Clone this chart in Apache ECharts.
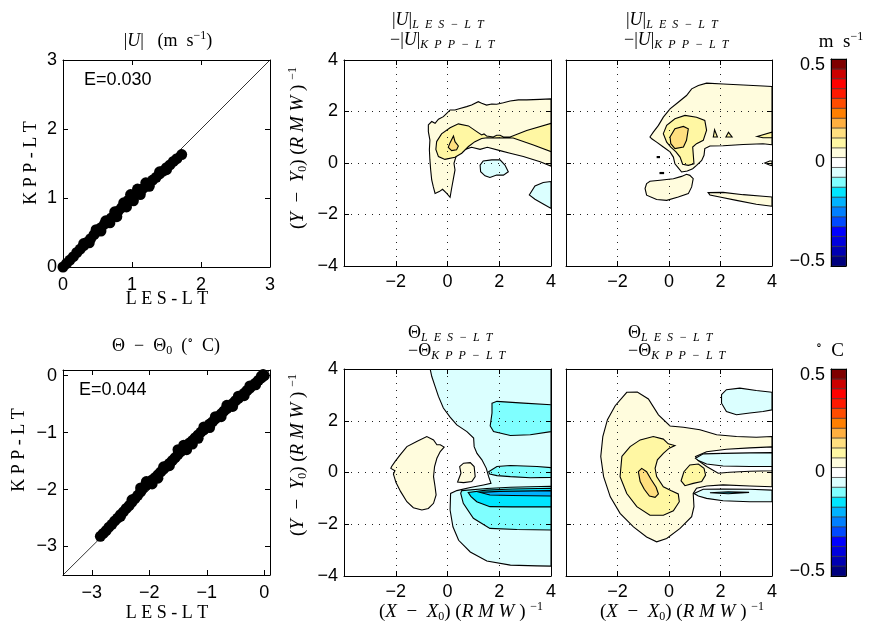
<!DOCTYPE html>
<html><head><meta charset="utf-8">
<script src="https://cdn.jsdelivr.net/npm/echarts@6/dist/echarts.min.js"></script>
<style>html,body{margin:0;padding:0;background:#fff}#c{width:871px;height:629px}</style>
</head><body><div id="c"></div>
<script>
// ---------------- scatter data ----------------
const U_LES = [0.00,0.05,0.10,0.15,0.20,0.25,0.30,0.35,0.40,0.45,0.50,0.55,0.60,0.65,0.70,0.75,0.80,0.85,0.90,0.95,1.00,1.05,1.10,1.15,1.20,1.25,1.30,1.35,1.40,1.45,1.50,1.55,1.60,1.65,1.72,
  0.48,0.55,0.62,0.68,0.75,0.78,0.88,0.92,0.98,1.02,1.08,1.12,1.20,1.25,0.30,0.38,1.40,1.50];
const U_KPP = [0.00,0.05,0.10,0.15,0.21,0.26,0.31,0.36,0.41,0.47,0.52,0.57,0.62,0.66,0.71,0.76,0.81,0.86,0.92,0.97,1.01,1.05,1.09,1.13,1.17,1.21,1.26,1.30,1.35,1.39,1.44,1.48,1.53,1.57,1.63,
  0.54,0.52,0.67,0.64,0.80,0.73,0.93,0.87,1.05,0.96,1.13,1.05,1.22,1.17,0.34,0.35,1.38,1.41];
const T_LES = [-2.85,-2.80,-2.75,-2.70,-2.65,-2.60,-2.55,-2.50,-2.45,-2.40,-2.35,-2.30,-2.25,-2.20,-2.15,-2.10,-2.05,-2.00,-1.95,-1.90,-1.85,-1.80,-1.75,-1.70,-1.65,-1.60,-1.55,-1.50,-1.45,-1.40,-1.35,-1.30,-1.25,-1.20,-1.15,-1.10,-1.05,-1.00,-0.95,-0.90,-0.85,-0.80,-0.75,-0.70,-0.65,-0.60,-0.55,-0.50,-0.45,-0.40,-0.35,-0.30,-0.25,-0.20,-0.15,-0.10,-0.05,0.00,
  -2.15,-2.05,-1.95,-1.85,-1.50,-1.40,-1.35,-1.25,-1.15,-1.05,-0.95,-0.85,-0.75,-0.65,-0.55,-0.45,-0.35,-0.25,-0.15,-0.05,-1.75,-1.65,-2.30,-2.50,-0.02];
const T_KPP = [-2.82,-2.77,-2.72,-2.66,-2.61,-2.55,-2.50,-2.44,-2.39,-2.33,-2.28,-2.22,-2.16,-2.10,-2.04,-1.96,-1.92,-1.88,-1.83,-1.79,-1.74,-1.69,-1.64,-1.59,-1.54,-1.49,-1.44,-1.38,-1.33,-1.27,-1.23,-1.18,-1.14,-1.09,-1.04,-0.99,-0.95,-0.90,-0.85,-0.81,-0.76,-0.72,-0.67,-0.62,-0.58,-0.53,-0.49,-0.44,-0.40,-0.35,-0.31,-0.26,-0.22,-0.17,-0.13,-0.08,-0.04,0.00,
  -1.97,-1.86,-1.90,-1.80,-1.30,-1.22,-1.30,-1.20,-1.10,-0.90,-0.91,-0.72,-0.72,-0.52,-0.54,-0.36,-0.35,-0.18,-0.16,-0.01,-1.60,-1.58,-2.18,-2.47,0.02];
const DIAG_U = [0, 3];
const DIAG_T = [-3.5, 0.1];

// ---------------- colour scale ----------------
const CB_EDGES = [-0.5,-0.452,-0.405,-0.357,-0.310,-0.262,-0.214,-0.167,-0.119,-0.071,-0.024,0.024,0.071,0.119,0.167,0.214,0.262,0.310,0.357,0.405,0.452,0.5];
const CB_COLORS = ['#00007F','#0000B2','#0000DD','#0000FF','#0049FF','#007FFF','#00B2FF','#00E5FF','#7FFFFF','#DBFFFF','#FFFFFF','#FFFCDD','#FFF7A3','#FFDF7F','#FFAF3F','#FF7F00','#FF4C00','#FF1900','#FF0000','#CC0000','#7F0000'];

// ---------------- contour regions (data coords, X,Y in RMW) ----------------
// |U| difference, middle panel
const U_MID_P1 = [[-0.74,1.48],[-0.61,1.61],[-0.48,1.54],[-0.35,1.70],[-0.16,1.80],[-0.03,1.93],[0.10,2.06],[0.29,2.06],[0.48,2.12],[0.74,2.19],[0.93,2.25],[1.19,2.38],[1.32,2.32],[1.51,2.25],[1.71,2.29],[1.90,2.28],[2.16,2.34],[2.42,2.41],[2.74,2.45],[3.06,2.45],[3.58,2.47],[4.0,2.49],[4.0,-0.12],[3.58,0.05],[2.93,0.25],[2.42,0.38],[2.03,0.48],[1.54,0.61],[1.26,0.53],[0.93,0.61],[0.68,0.53],[0.48,0.44],[0.33,0.25],[0.25,-0.01],[0.29,-0.27],[0.23,-0.60],[0.16,-0.98],[0.10,-1.33],[-0.03,-1.18],[-0.19,-1.02],[-0.32,-1.11],[-0.48,-1.18],[-0.55,-0.92],[-0.61,-0.66],[-0.65,-0.27],[-0.68,0.12],[-0.70,0.51],[-0.68,0.89],[-0.74,1.22]];
const U_MID_P2 = [[-0.42,0.83],[-0.23,1.13],[0.10,1.37],[0.42,1.52],[0.81,1.44],[1.13,1.22],[1.32,1.09],[1.41,1.13],[1.51,1.05],[1.77,1.01],[1.90,1.08],[2.03,1.08],[2.16,1.01],[2.42,1.01],[3.06,1.26],[4.0,1.54],[4.0,0.44],[3.32,0.70],[2.54,0.97],[2.16,0.97],[1.96,0.98],[1.77,0.97],[1.54,0.98],[1.32,0.95],[1.06,0.83],[0.81,0.64],[0.55,0.38],[0.29,0.22],[-0.10,0.14],[-0.35,0.25],[-0.45,0.53]];
const U_MID_P3 = [[0.23,1.05],[0.29,0.83],[0.42,0.66],[0.35,0.51],[0.16,0.48],[0.03,0.61],[0.10,0.79]];
const U_MID_N1A = [[1.26,-0.08],[1.38,0.08],[1.71,0.12],[2.03,0.12],[2.22,-0.08],[2.35,-0.34],[2.16,-0.47],[1.90,-0.47],[1.64,-0.56],[1.45,-0.50],[1.28,-0.34]];
const U_MID_N1B = [[3.16,-1.24],[3.38,-0.89],[3.70,-0.76],[4.0,-0.72],[4.0,-1.76],[3.70,-1.59],[3.38,-1.41]];
// |U| difference, right panel
const U_RGT_P1A = [[-0.74,1.01],[-0.61,1.20],[-0.41,1.46],[-0.22,1.78],[0.04,2.10],[0.36,2.36],[0.68,2.62],[0.88,2.88],[1.14,3.01],[1.46,3.10],[2.10,3.07],[2.88,3.03],[3.65,2.99],[4.0,2.97],[4.0,0.71],[3.65,0.75],[2.88,0.72],[2.10,0.67],[1.59,0.66],[1.39,0.56],[1.36,0.30],[1.27,0.10],[1.07,-0.09],[0.92,-0.22],[0.71,-0.31],[0.49,-0.35],[0.36,-0.19],[0.23,-0.03],[0.17,0.23],[0.04,0.43],[-0.22,0.62],[-0.48,0.81],[-0.67,0.94]];
const U_RGT_P1B = [[-0.87,-0.80],[-0.74,-0.71],[-0.35,-0.67],[0.17,-0.61],[0.49,-0.52],[0.68,-0.44],[0.81,-0.48],[0.94,-0.61],[0.88,-0.93],[0.75,-1.19],[0.36,-1.32],[-0.09,-1.45],[-0.48,-1.42],[-0.87,-1.25],[-0.93,-0.99]];
const U_RGT_P1C = [[1.52,-1.15],[2.10,-1.14],[2.88,-1.23],[3.65,-1.29],[4.0,-1.32],[4.0,-1.68],[3.39,-1.60],[2.62,-1.45],[1.97,-1.32],[1.59,-1.24]];
const U_RGT_P1D = [[3.72,0.0],[3.91,0.08],[4.0,0.08],[4.0,-0.10],[3.90,-0.08]];
const U_RGT_P2 = [[-0.22,1.14],[-0.09,1.46],[0.23,1.72],[0.62,1.85],[1.07,1.78],[1.39,1.65],[1.46,1.27],[1.33,0.88],[1.07,0.75],[0.92,0.62],[0.97,-0.03],[0.75,-0.09],[0.53,-0.05],[0.43,0.23],[0.27,0.43],[0.07,0.62],[-0.09,0.81]];
const U_RGT_P2T1 = [[1.72,1.01],[1.77,1.29],[1.88,1.01]];
const U_RGT_P2T2 = [[2.21,1.01],[2.31,1.19],[2.45,1.01]];
const U_RGT_P2W = [[3.42,1.03],[4.0,1.20],[4.0,0.98],[3.65,0.98]];
const U_RGT_P3 = [[0.04,1.01],[0.23,1.33],[0.56,1.42],[0.75,1.33],[0.68,0.88],[0.56,0.62],[0.23,0.56],[0.07,0.75]];
const U_RGT_D1 = [[-0.48,0.23],[-0.35,0.23]];
const U_RGT_D2 = [[-0.37,-0.39],[-0.19,-0.39]];
// Theta difference, middle panel
const T_MID_N1 = [[-0.67,4.0],[4.0,4.0],[4.0,-3.62],[3.46,-3.61],[2.43,-3.58],[1.52,-3.42],[0.88,-3.07],[0.43,-2.62],[0.21,-2.10],[0.10,-1.45],[0.12,-0.81],[0.36,-0.70],[0.88,-0.58],[1.39,-0.48],[1.68,-0.42],[1.59,-0.16],[1.50,0.16],[1.33,0.49],[1.14,0.74],[1.03,1.00],[1.01,1.33],[0.75,1.58],[0.36,1.84],[0.10,2.14],[-0.16,2.49],[-0.35,2.94],[-0.48,3.33],[-0.61,3.72]];
const T_MID_N2A = [[1.72,2.68],[1.91,2.75],[2.94,2.68],[4.0,2.62],[4.0,1.58],[3.20,1.46],[2.43,1.43],[1.78,1.58],[1.65,1.80],[1.72,2.30]];
const T_MID_N2B = [[1.59,0.03],[1.91,0.23],[2.43,0.27],[3.46,0.23],[4.0,0.19],[4.0,-0.19],[3.20,-0.20],[2.43,-0.16],[1.91,-0.12],[1.63,-0.06]];
const T_MID_N2C = [[0.55,-0.70],[1.52,-0.62],[2.43,-0.57],[4.0,-0.53],[4.0,-2.22],[2.68,-2.20],[1.64,-2.16],[1.00,-1.77],[0.61,-1.19],[0.51,-0.80]];
const T_MID_N3 = [[0.80,-0.77],[1.50,-0.68],[2.50,-0.64],[4.0,-0.61],[4.0,-1.33],[2.50,-1.33],[1.64,-1.32],[1.13,-1.13],[0.90,-0.92]];
const T_MID_N4 = [[1.26,-0.77],[2.00,-0.73],[4.0,-0.70],[4.0,-0.91],[2.50,-0.89],[1.64,-0.87]];
const T_MID_P1A = [[-2.16,0.23],[-2.03,0.42],[-1.83,0.68],[-1.57,1.00],[-1.19,1.20],[-0.80,1.39],[-0.54,1.26],[-0.41,1.07],[-0.28,1.07],[-0.13,0.98],[-0.28,0.81],[-0.41,0.55],[-0.50,0.23],[-0.54,-0.16],[-0.48,-0.55],[-0.44,-0.87],[-0.54,-1.19],[-0.74,-1.39],[-0.99,-1.45],[-1.32,-1.36],[-1.57,-1.13],[-1.81,-0.74],[-1.99,-0.39],[-2.09,-0.06],[-2.03,0.07],[-2.19,0.16]];
const T_MID_P1B = [[0.47,0.23],[0.62,0.36],[0.88,0.38],[1.03,0.23],[1.07,-0.16],[0.94,-0.35],[0.62,-0.39],[0.39,-0.37],[0.52,-0.03]];
// Theta difference, right panel
const T_RGT_P1 = [[-1.64,3.10],[-1.23,3.11],[-0.80,2.84],[-0.41,2.23],[0.04,1.80],[0.56,1.75],[1.20,1.65],[1.85,1.46],[2.62,1.39],[3.39,1.36],[4.0,1.39],[4.0,-0.55],[3.14,-0.52],[2.10,-0.48],[1.46,-0.52],[1.07,-0.61],[0.94,-0.81],[0.97,-1.32],[0.88,-1.71],[0.43,-2.16],[-0.09,-2.55],[-0.48,-2.68],[-0.87,-2.49],[-1.38,-2.10],[-1.90,-1.58],[-2.28,-0.94],[-2.54,-0.16],[-2.65,0.62],[-2.57,1.39],[-2.39,2.04],[-2.09,2.58]];
const T_RGT_W = [[1.03,0.62],[1.46,0.80],[2.23,0.90],[3.14,0.95],[4.0,0.99],[4.0,0.07],[3.14,0.05],[2.36,0.01],[1.91,-0.03],[1.46,0.23],[1.14,0.46]];
const T_RGT_N1A = [[2.04,3.01],[2.23,3.20],[2.75,3.26],[3.39,3.17],[4.0,3.10],[4.0,2.42],[3.65,2.36],[3.14,2.30],[2.62,2.23],[2.23,2.36],[2.04,2.68]];
const T_RGT_N1B = [[1.03,0.55],[1.33,0.72],[2.10,0.74],[3.14,0.76],[4.0,0.77],[4.0,0.23],[3.14,0.23],[2.10,0.25],[1.46,0.33],[1.14,0.46]];
const T_RGT_N1C = [[0.97,-0.81],[1.33,-0.65],[2.10,-0.64],[3.14,-0.65],[4.0,-0.68],[4.0,-1.13],[3.14,-1.13],[2.10,-1.09],[1.46,-1.00],[1.14,-0.91]];
const T_RGT_N3 = [[1.59,-0.78],[2.30,-0.75],[3.11,-0.77],[2.30,-0.82]];
const T_RGT_P2 = [[-1.83,0.62],[-1.51,1.00],[-1.12,1.26],[-0.61,1.39],[-0.22,1.29],[-0.03,1.11],[0.23,1.04],[0.01,0.94],[-0.22,0.74],[-0.45,0.49],[-0.54,0.16],[-0.48,-0.16],[-0.22,-0.55],[0.07,-0.70],[0.36,-0.83],[0.40,-1.13],[0.17,-1.48],[-0.22,-1.65],[-0.74,-1.65],[-1.25,-1.32],[-1.64,-0.81],[-1.90,-0.16]];
const T_RGT_P3 = [[-1.19,0.03],[-1.06,0.16],[-0.87,0.03],[-0.70,-0.26],[-0.50,-0.57],[-0.41,-0.83],[-0.54,-0.96],[-0.76,-0.91],[-0.96,-0.65],[-1.12,-0.35]];
const T_RGT_P2B = [[0.47,-0.32],[0.58,0.03],[0.81,0.29],[1.14,0.33],[1.36,0.16],[1.42,-0.10],[1.27,-0.35],[0.94,-0.42],[0.62,-0.51]];

// ---------------- tick labels ----------------
const U_TICKS = [0, 1, 2, 3];
const T_TICKS = [-3, -2, -1, 0];
const XY_TICKS = [-4, -2, 0, 2, 4];
const CB_TICKS = [-0.5, 0, 0.5];

// ---------------- build ----------------
const SANS = "'Liberation Sans', Arial, Helvetica, sans-serif";
const SERIF = "'Liberation Serif', 'DejaVu Serif', 'Times New Roman', serif";
const lvlColor = l => CB_COLORS[10 + l];
const fmtNum = v => String(v).replace('-', '\u2212');

const grids = [
  {left:63, top:60, width:207, height:207},
  {left:344, top:60, width:207, height:206},
  {left:566, top:60, width:206, height:206},
  {left:63, top:370, width:207, height:205},
  {left:344, top:369, width:207, height:207},
  {left:566, top:369, width:206, height:207},
  {left:831, top:59, width:15, height:207},
  {left:831, top:369, width:15, height:207}
];
const xAxes = [], yAxes = [];
const lineBox = {show:true, onZero:false, lineStyle:{color:'#000', width:1}};
function addAxes(gi, xo, yo) {
  const base = (o, pos, primary) => Object.assign({
    type:'value', gridIndex:gi, position:pos, z:10,
    axisLine: lineBox,
    axisTick: {show: o.tick !== false, inside:true, length:5, lineStyle:{color:'#000'}},
    splitLine: {show:false}
  }, o.cfg, primary ? {} : {axisLabel:{show:false}, splitLine:{show:false}});
  xAxes.push(base(xo, 'bottom', true));
  xAxes.push(base(xo, 'top', false));
  yAxes.push(base(yo, 'left', true));
  yAxes.push(base(yo, 'right', false));
}
const lab = (show, extra) => Object.assign({show, color:'#000', fontFamily:SANS, fontSize:18, margin:7, formatter: fmtNum}, extra || {});
const dotted = {show:true, lineStyle:{color:'#222', type:[1,6], width:1}};

// 0: U scatter
addAxes(0, {cfg:{min:0, max:3, interval:1, axisLabel:lab(true,{margin:9})}}, {cfg:{min:0, max:3, interval:1, axisLabel:lab(true,{margin:6})}});
// 1,2: U contours
addAxes(1, {cfg:{min:-4, max:4, interval:2, axisLabel:lab(true,{formatter:v=>v===-4?'':fmtNum(v)}), splitLine:dotted}}, {cfg:{min:-4, max:4, interval:2, axisLabel:lab(true,{margin:6}), splitLine:dotted}});
addAxes(2, {cfg:{min:-4, max:4, interval:2, axisLabel:lab(true,{formatter:v=>v===-4?'':fmtNum(v)}), splitLine:dotted}}, {cfg:{min:-4, max:4, interval:2, axisLabel:lab(false), splitLine:dotted}});
// 3: theta scatter
addAxes(3, {cfg:{min:-3.5, max:0.1, axisLabel:lab(true,{margin:9, customValues:T_TICKS}), axisTick:{show:true, inside:true, length:5, customValues:T_TICKS, lineStyle:{color:'#000'}}}},
           {cfg:{min:-3.5, max:0.1, axisLabel:lab(true,{margin:6, customValues:T_TICKS}), axisTick:{show:true, inside:true, length:5, customValues:T_TICKS, lineStyle:{color:'#000'}}}});
// 4,5: theta contours
addAxes(4, {cfg:{min:-4, max:4, interval:2, axisLabel:lab(true,{formatter:v=>v===-4?'':fmtNum(v)}), splitLine:dotted}}, {cfg:{min:-4, max:4, interval:2, axisLabel:lab(true,{margin:6}), splitLine:dotted}});
addAxes(5, {cfg:{min:-4, max:4, interval:2, axisLabel:lab(true,{formatter:v=>v===-4?'':fmtNum(v)}), splitLine:dotted}}, {cfg:{min:-4, max:4, interval:2, axisLabel:lab(false), splitLine:dotted}});
// 6,7: colour bars
const cbLab = lab(true, {margin:6, formatter: v => v === 0.5 ? '{t|0.5}' : (v === -0.5 ? '{b|\u22120.5}' : '0'),
  rich:{t:{fontFamily:SANS, fontSize:18, padding:[13,0,0,0]}, b:{fontFamily:SANS, fontSize:18, padding:[0,0,9,0]}}});
for (const gi of [6, 7]) {
  addAxes(gi, {tick:false, cfg:{min:0, max:1, axisLabel:lab(false)}}, {tick:false, cfg:{min:-0.5, max:0.5, interval:0.5, axisLabel:cbLab}});
}

const series = [];
function scatterPanel(gi, xs, ys, diag) {
  series.push({type:'line', xAxisIndex:2*gi, yAxisIndex:2*gi, data: diag.map(v => [v, v]), symbol:'none', lineStyle:{color:'#000', width:0.8}, z:2, silent:true});
  series.push({type:'scatter', xAxisIndex:2*gi, yAxisIndex:2*gi, data: xs.map((x, i) => [x, ys[i]]), symbol:'circle', symbolSize:11, itemStyle:{color:'#000', opacity:1}, z:3, silent:true});
}
scatterPanel(0, U_LES, U_KPP, DIAG_U);
scatterPanel(3, T_LES, T_KPP, DIAG_T);

function contourPanel(gi, layers) {
  series.push({
    type:'custom', xAxisIndex:2*gi, yAxisIndex:2*gi, clip:true, silent:true, z:2,
    data: layers.map((l, i) => [l.pts[0][0], l.pts[0][1], i]),
    renderItem: (params, api) => {
      const l = layers[api.value(2)];
      const pts = l.pts.map(p => api.coord(p));
      if (l.line) return {type:'polyline', shape:{points:pts}, style:{stroke:'#000', lineWidth:2.2, fill:null}};
      return {type:'polygon', shape:{points:pts}, style:{fill:lvlColor(l.lvl), stroke:'#000', lineWidth:1.1}};
    }
  });
}
contourPanel(1, [{pts:U_MID_P1, lvl:1}, {pts:U_MID_P2, lvl:2}, {pts:U_MID_P3, lvl:3}, {pts:U_MID_N1A, lvl:-1}, {pts:U_MID_N1B, lvl:-1}]);
contourPanel(2, [{pts:U_RGT_P1A, lvl:1}, {pts:U_RGT_P1B, lvl:1}, {pts:U_RGT_P1C, lvl:1}, {pts:U_RGT_P1D, lvl:1},
  {pts:U_RGT_P2, lvl:2}, {pts:U_RGT_P2T1, lvl:2}, {pts:U_RGT_P2T2, lvl:2}, {pts:U_RGT_P2W, lvl:2}, {pts:U_RGT_P3, lvl:3},
  {pts:U_RGT_D1, line:true}, {pts:U_RGT_D2, line:true}]);
contourPanel(4, [{pts:T_MID_N1, lvl:-1}, {pts:T_MID_N2A, lvl:-2}, {pts:T_MID_N2B, lvl:-2}, {pts:T_MID_N2C, lvl:-2}, {pts:T_MID_N3, lvl:-3}, {pts:T_MID_N4, lvl:-4},
  {pts:T_MID_P1A, lvl:1}, {pts:T_MID_P1B, lvl:1}]);
contourPanel(5, [{pts:T_RGT_P1, lvl:1}, {pts:T_RGT_W, lvl:0}, {pts:T_RGT_N1A, lvl:-1}, {pts:T_RGT_N1B, lvl:-1}, {pts:T_RGT_N1C, lvl:-1}, {pts:T_RGT_N3, lvl:-3},
  {pts:T_RGT_P2, lvl:2}, {pts:T_RGT_P3, lvl:3}, {pts:T_RGT_P2B, lvl:2}]);

function colorbar(gi) {
  series.push({
    type:'custom', xAxisIndex:2*gi, yAxisIndex:2*gi, silent:true, z:2,
    data: CB_COLORS.map((c, i) => [0, CB_EDGES[i], CB_EDGES[i+1], i]),
    renderItem: (params, api) => {
      const a = api.coord([0, api.value(1)]), b = api.coord([1, api.value(2)]);
      return {type:'rect', shape:{x:a[0], y:b[1], width:b[0]-a[0], height:a[1]-b[1]}, style:{fill:CB_COLORS[api.value(3)], stroke:'#333', lineWidth:0.6}};
    }
  });
}
colorbar(6); colorbar(7);

// ---------------- text ----------------
const rich = {
  n:{fontFamily:SERIF, fontSize:18, fill:'#000'},
  m:{fontFamily:SERIF, fontSize:18, fill:'#000'},
  i:{fontFamily:SERIF, fontSize:18, fontStyle:'italic', fill:'#000'},
  b:{fontFamily:SERIF, fontSize:19, fill:'#000'},
  bi:{fontFamily:SERIF, fontSize:19, fontStyle:'italic', fill:'#000'},
  sup:{fontFamily:SERIF, fontSize:12, fill:'#000', padding:[0,0,11,0]},
  sub:{fontFamily:SERIF, fontSize:12, fontStyle:'italic', fill:'#000', padding:[10,0,0,0]},
  s0:{fontFamily:SERIF, fontSize:12, fill:'#000', padding:[10,0,0,0]}
};
function T(x, y, text, o) {
  o = o || {};
  return {type:'text', x, y, rotation: o.rot || 0, z:20, silent:true,
    style:{text, rich, align:o.align || 'center', verticalAlign:'middle', fontFamily:o.sans ? SANS : SERIF, fontSize:o.fs || 18, fill:'#000'}};
}
const R90 = Math.PI / 2;
const SUB_LES = '{sub|L  E  S  \u2212  L  T}';
const SUB_KPP = '{sub|K  P  P  \u2212  L  T}';
const yLab = '{b|(}{bi|Y}{b|  \u2212  }{bi|Y}{s0|0}{b|) (}{bi|R M W}{b| ) }{sup|\u22121}';
const xLab = '{b|(}{bi|X}{b|  \u2212  }{bi|X}{s0|0}{b|) (}{bi|R M W}{b| ) }{sup|\u22121}';
const graphics = [
  T(168, 41, '{m||}{i|U}{m||   (m  s}{sup|\u22121}{m|)}'),
  T(31, 163, '{n|K P P - L T}', {rot:R90}),
  T(167, 299, '{n|L E S - L T}'),
  T(84, 80, 'E=0.030', {sans:true, fs:18, align:'left'}),
  T(392, 20, '{n||}{i|U}{n||}' + SUB_LES, {align:'left'}),
  T(390, 40, '{n|\u2212|}{i|U}{n||}' + SUB_KPP, {align:'left'}),
  T(626, 20, '{n||}{i|U}{n||}' + SUB_LES, {align:'left'}),
  T(624, 40, '{n|\u2212|}{i|U}{n||}' + SUB_KPP, {align:'left'}),
  T(298, 148, yLab, {rot:R90}),
  T(841, 42, '{b|m  s}{sup|\u22121}'),
  T(166, 346, '{m|\u0398  \u2212  \u0398}{s0|0}{m|  (}{sup|\u2218}{m|  C)}'),
  T(19, 450, '{n|K P P - L T}', {rot:R90}),
  T(167, 613, '{n|L E S - L T}'),
  T(79, 390, 'E=0.044', {sans:true, fs:18, align:'left'}),
  T(408, 333, '{n|\u0398}' + SUB_LES, {align:'left'}),
  T(408, 351, '{n|\u2212\u0398}' + SUB_KPP, {align:'left'}),
  T(628, 333, '{n|\u0398}' + SUB_LES, {align:'left'}),
  T(628, 351, '{n|\u2212\u0398}' + SUB_KPP, {align:'left'}),
  T(298, 455, yLab, {rot:R90}),
  T(461, 612, xLab),
  T(682, 612, xLab),
  T(830, 351, '{sup|\u2218}{b|  C}')
];

const chart = echarts.init(document.getElementById('c'), null, {renderer:'canvas'});
chart.setOption({
  animation:false, backgroundColor:'#fff',
  grid: grids, xAxis: xAxes, yAxis: yAxes, series, graphic: graphics
});
</script></body></html>
